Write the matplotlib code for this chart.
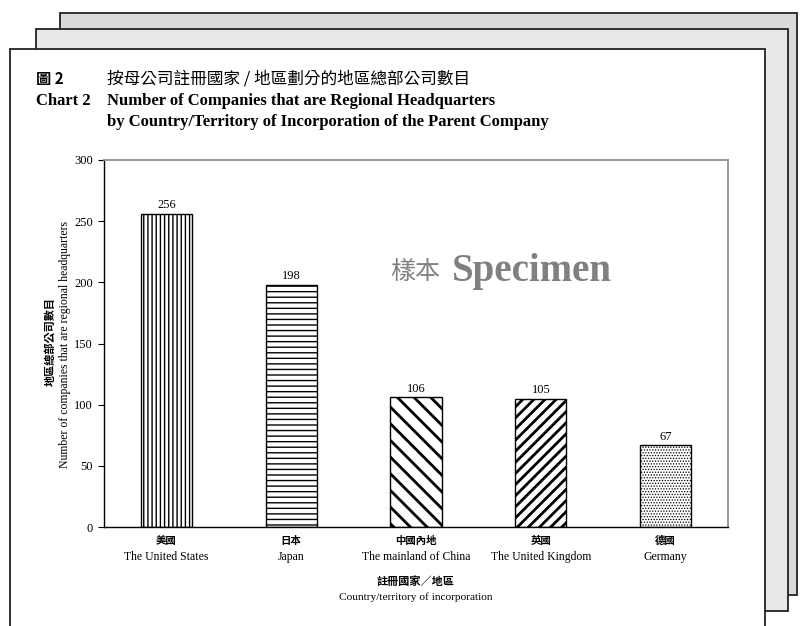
import matplotlib
matplotlib.use("Agg")
import matplotlib.pyplot as plt
from matplotlib.patches import Rectangle

categories_zh = ["美國", "日本", "中國內地", "英國", "德國"]
categories_en = ["The United States", "Japan", "The mainland of China", "The United Kingdom", "Germany"]
values = [256, 198, 106, 105, 67]
hatches = ["||||", "---", "\\\\", "///", "......"]
hatch_lw = [1.0, 1.0, 2.0, 2.0, 0.6]
yticks = [0, 50, 100, 150, 200, 250, 300]

SERIF = ["Liberation Serif", "Noto Sans CJK TC"]
CJK = ["Noto Sans CJK TC", "Liberation Serif"]

W, H = 803, 626
fig = plt.figure(figsize=(W / 100, H / 100), dpi=100)
fig.patch.set_facecolor("white")

def fx(x):
    return x / W

def fy(y):
    return 1 - y / H

def page(x0, y0, x1, y1, fc, z):
    fig.patches.append(Rectangle((fx(x0), fy(y1)), fx(x1) - fx(x0), fy(y0) - fy(y1),
                                 transform=fig.transFigure, facecolor=fc,
                                 edgecolor="#222222", linewidth=1.3, zorder=z))

page(60, 13, 797, 595, "#dadada", -3)
page(36, 29, 788, 611, "#e8e8e8", -2)
page(10, 49, 765, 640, "white", -1)

ax = fig.add_axes([fx(104), fy(527), fx(728) - fx(104), fy(160) - fy(527)])
ax.set_facecolor("none")

x = list(range(len(values)))
for i, v in enumerate(values):
    with plt.rc_context({"hatch.linewidth": hatch_lw[i]}):
        b = ax.bar(x[i], v, width=0.41, facecolor="white", edgecolor="black",
                   linewidth=1.0, hatch=hatches[i], zorder=2)
    for p in b:
        if hasattr(p, "set_hatch_linewidth"):
            p.set_hatch_linewidth(hatch_lw[i])
    ax.text(x[i], v + 2, str(v), ha="center", va="bottom", fontsize=9, family=SERIF)

ax.set_xlim(-0.5, len(values) - 0.5)
ax.set_ylim(0, 300)
ax.set_yticks(yticks)
ax.set_yticklabels([str(t) for t in yticks], family=SERIF, fontsize=9)
ax.set_xticks(x)
ax.set_xticklabels(["" for _ in x])
ax.tick_params(axis="x", length=0)
ax.tick_params(axis="y", length=4, width=0.8, direction="out", pad=4)
for s in ["top", "right"]:
    ax.spines[s].set_color("#888888")
    ax.spines[s].set_linewidth(1.2)
for s in ["left", "bottom"]:
    ax.spines[s].set_color("black")
    ax.spines[s].set_linewidth(1.0)

# category labels
for i in x:
    xc = ax.transData.transform((i, 0))[0]
    xf = xc / fig.dpi / fig.get_figwidth()
    fig.text(xf, fy(541), categories_zh[i], ha="center", va="center", fontsize=7.5, family=CJK, weight="bold")
    fig.text(xf, fy(557), categories_en[i], ha="center", va="center", fontsize=8.5, family=SERIF)

xmid = (fx(104) + fx(728)) / 2
fig.text(xmid, fy(581), "註冊國家／地區", ha="center", va="center", fontsize=8, family=CJK, weight="bold")
fig.text(xmid, fy(597), "Country/territory of incorporation", ha="center", va="center", fontsize=8.2, family=SERIF)

# y labels
fig.text(fx(50), fy(342), "地區總部公司數目", rotation=90, ha="center", va="center", fontsize=8, family=CJK, weight="bold")
fig.text(fx(65), fy(344), "Number of companies that are regional headquarters", rotation=90,
         ha="center", va="center", fontsize=8.5, family=SERIF)

# titles
fig.text(fx(36), fy(79), "圖 2", ha="left", va="center", fontsize=11, family=CJK, weight="bold")
fig.text(fx(107), fy(79), "按母公司註冊國家 / 地區劃分的地區總部公司數目", ha="left", va="center", fontsize=12, family=CJK)
fig.text(fx(36), fy(101), "Chart 2", ha="left", va="center", fontsize=12, family=SERIF, weight="bold")
fig.text(fx(107), fy(101), "Number of Companies that are Regional Headquarters", ha="left", va="center",
         fontsize=12, family=SERIF, weight="bold")
fig.text(fx(107), fy(122), "by Country/Territory of Incorporation of the Parent Company", ha="left", va="center",
         fontsize=12, family=SERIF, weight="bold")

# watermark
fig.text(fx(390), fy(272), "樣本", ha="left", va="center", fontsize=18, family=CJK, color="#808080")
fig.text(fx(452), fy(272), "Specimen", ha="left", va="center", fontsize=28, family=SERIF,
         weight="bold", color="#808080")

fig.savefig("out.png", dpi=100)
